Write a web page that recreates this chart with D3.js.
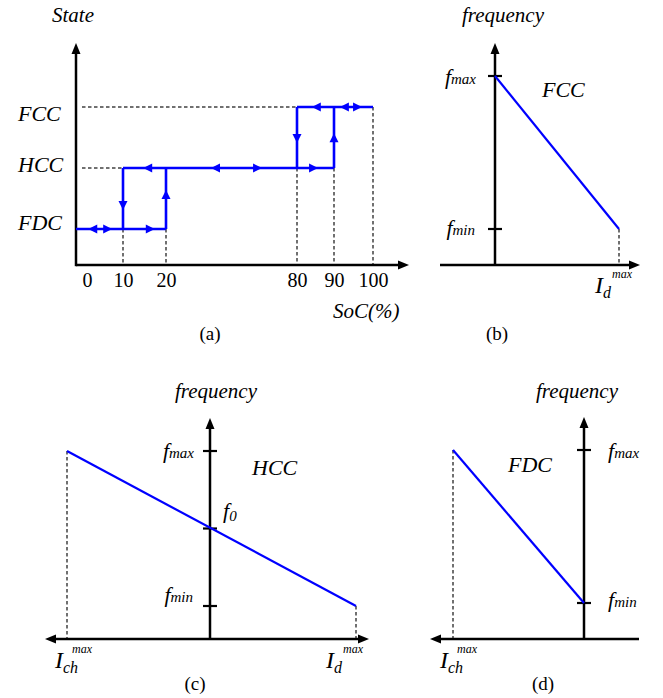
<!DOCTYPE html>
<html>
<head>
<meta charset="utf-8">
<script src="https://cdn.jsdelivr.net/npm/d3@7"></script>
<style>
  body { margin: 0; background: #fff; }
  text { font-family: "Liberation Serif", "Times New Roman", serif; fill: #000; }
  .it { font-style: italic; }
</style>
</head>
<body>
<div class="chart"></div>
<script>
// ---- data ----
const socTicks = [0, 10, 20, 80, 90, 100];
const stateNames = ["FDC", "HCC", "FCC"];       // levels 1, 2, 3
const stateLevels = [1, 2, 3];
// blue hysteresis path segments [soc1, level1, soc2, level2]
const stateSegments = [
  [0, 1, 20, 1], [10, 2, 10, 1], [20, 1, 20, 2], [10, 2, 90, 2],
  [80, 3, 80, 2], [90, 2, 90, 3], [80, 3, 100, 3]
];
// direction arrows [soc, level, direction]
const stateArrows = [
  [2.6, 1, "left"], [7.7, 1, "right"], [17.4, 1, "right"],
  [10, 1.31, "down"], [20, 1.64, "up"],
  [14.7, 2, "left"], [40.6, 2, "left"], [64, 2, "right"], [85.7, 2, "right"],
  [80, 2.41, "down"], [90, 2.57, "up"],
  [84, 3, "left"], [91.5, 3, "left"], [97.2, 3, "right"]
];
// grey guides: horizontal [socFrom, socTo, level], vertical [soc, level]
const guideH = [[0, 80, 3], [0, 10, 2]];
const guideV = [[10, 1], [20, 1], [80, 2], [90, 2], [100, 3]];

const freqNames = ["max", "0", "min"];
const freqValues = [1, 0.5, 0];
const lineFCC = [[0, 1], [1, 0]];        // current (Id max = 1), frequency
const lineHCC = [[-1, 1], [1, 0]];       // Ich max = -1
const lineFDC = [[-1, 1], [0, 0]];

const blue = "#0000ff", grey = "#707070", dash = "3.5,2.5";

const svg = d3.select(".chart").append("svg")
  .attr("width", 663).attr("height", 698);

function tri(g, x, y, dir, color, len, half) {
  const rot = { right: 0, left: 180, down: 90, up: -90 }[dir];
  g.append("path")
    .attr("d", `M0,0L${-len},${-half}L${-len},${half}Z`)
    .attr("transform", `translate(${x},${y}) rotate(${rot})`)
    .attr("fill", color);
}
function line(g, x1, y1, x2, y2, color, w, dsh) {
  g.append("line").attr("x1", x1).attr("y1", y1).attr("x2", x2).attr("y2", y2)
    .attr("stroke", color).attr("stroke-width", w)
    .attr("stroke-dasharray", dsh || null);
}
function label(g, x, y, txt, size, italic, anchor) {
  return g.append("text").attr("x", x).attr("y", y)
    .attr("class", italic ? "it" : null)
    .attr("font-size", size).attr("text-anchor", anchor || "start").text(txt);
}

// ================= (a) =================
const ga = svg.append("g");
const xSoc = d3.scaleLinear().domain(socTicks).range([76, 123, 166, 297, 334, 373]);
const yState = d3.scaleLinear().domain([1, 3]).range([229, 107]);
const axA = 265;

guideH.forEach(d => line(ga, xSoc(d[0]) + 6, yState(d[2]), xSoc(d[1]), yState(d[2]), grey, 2, dash));
guideV.forEach(d => line(ga, xSoc(d[0]), yState(d[1]), xSoc(d[0]), axA, grey, 2, dash));

line(ga, 76, axA, 400, axA, "#000", 2.5);
tri(ga, 409, axA, "right", "#000", 11, 4.5);
line(ga, 76, axA + 1.2, 76, 52, "#000", 2.5);
tri(ga, 76, 43, "up", "#000", 11, 4.5);

stateSegments.forEach(d => line(ga, xSoc(d[0]), yState(d[1]), xSoc(d[2]), yState(d[3]), blue, 2.6));
stateArrows.forEach(d => tri(ga, xSoc(d[0]), yState(d[1]), d[2], blue, 9, 4.5));

const xAxisA = ga.append("g")
  .attr("transform", `translate(0,${axA})`)
  .call(d3.axisBottom(xSoc).tickValues(socTicks).tickSize(0).tickPadding(8));
xAxisA.select(".domain").remove();
xAxisA.attr("font-family", null).attr("font-size", null);
xAxisA.selectAll("text")
  .attr("font-family", "Liberation Serif").attr("font-size", 20).attr("fill", "#000")
  .attr("dy", "0.71em")
  .attr("x", d => d === 0 ? 11 : 0);

const stateLabelY = [230, 172, 121];
stateNames.forEach((s, i) => label(ga, 18, stateLabelY[i], s, 22, true));
label(ga, 52, 22, "State", 21, true);
label(ga, 333, 318, "SoC(%)", 21, true);
label(ga, 210, 340, "(a)", 19, false, "middle");

// ================= frequency panels =================
function fLabel(g, x, y, sub, anchor) {
  const t = g.append("text").attr("x", x).attr("y", y).attr("class", "it")
    .attr("text-anchor", anchor);
  t.append("tspan").attr("font-size", 22).text("f");
  t.append("tspan").attr("font-size", 15)
    .attr("dy", sub === "0" ? 3 : 0).text(sub);
}
function iLabel(g, x, y, sub) {
  label(g, x, y, "I", 24, true);
  label(g, x + 8, y + 5, sub, 16, true);
  label(g, x + 17, y - 15, "max", 12, true);
}

function freqPanel(o) {
  const g = svg.append("g");
  const x = d3.scaleLinear().domain(o.xDomain).range(o.xRange);
  const y = d3.scaleLinear().domain([0, 1]).range(o.yRange);
  const x0 = x(0);
  const pts = o.data;

  // dashed drops from line ends at current limits
  pts.filter(p => p[0] !== 0).forEach(p =>
    line(g, x(p[0]), y(p[1]), x(p[0]), o.axisY, grey, 2, dash));

  // axes
  line(g, o.xAxis[0] + (o.leftArrow ? 8 : 0), o.axisY, o.xAxis[1] - (o.rightArrow ? 8 : 0), o.axisY, "#000", 2.5);
  if (o.rightArrow) tri(g, o.xAxis[1], o.axisY, "right", "#000", 11, 4.5);
  if (o.leftArrow) tri(g, o.xAxis[0], o.axisY, "left", "#000", 11, 4.5);
  line(g, x0, o.axisY, x0, o.yTop + 9, "#000", 2.5);
  tri(g, x0, o.yTop, "up", "#000", 11, 4.5);

  // frequency ticks
  freqValues.forEach((v, i) => {
    if (!o.ticks.includes(freqNames[i])) return;
    line(g, x0 - 7, y(v), x0 + 7, y(v), "#000", 2.2);
  });

  g.append("path")
    .datum(pts)
    .attr("d", d3.line().x(d => x(d[0])).y(d => y(d[1])))
    .attr("fill", "none").attr("stroke", blue).attr("stroke-width", 2.2);

  o.labels(g, x, y, x0);
}

// (b) FCC
freqPanel({
  xDomain: [0, 1], xRange: [495, 619], yRange: [229, 76],
  axisY: 265, xAxis: [440, 640], rightArrow: true, leftArrow: false, yTop: 43,
  data: lineFCC, ticks: ["max", "min"],
  labels: (g, x, y, x0) => {
    fLabel(g, x0 - 19, y(1) + 8, "max", "end");
    fLabel(g, x0 - 20, y(0) + 6, "min", "end");
    label(g, 462, 22, "frequency", 21, true);
    label(g, 542, 97, "FCC", 22, true);
    iLabel(g, 595, 293, "d");
    label(g, 497, 340, "(b)", 19, false, "middle");
  }
});

// (c) HCC
freqPanel({
  xDomain: [-1, 0, 1], xRange: [67, 210, 356], yRange: [606, 451],
  axisY: 639, xAxis: [45, 369], rightArrow: true, leftArrow: true, yTop: 418,
  data: lineHCC, ticks: ["max", "0", "min"],
  labels: (g, x, y, x0) => {
    fLabel(g, x0 - 16, y(1) + 7, "max", "end");
    fLabel(g, x0 + 13, y(0.5) - 11, "0", "start");
    fLabel(g, x0 - 17, y(0) - 4, "min", "end");
    label(g, 175, 398, "frequency", 21, true);
    label(g, 252, 475, "HCC", 22, true);
    iLabel(g, 55, 668, "ch");
    iLabel(g, 326, 668, "d");
    label(g, 195, 690, "(c)", 19, false, "middle");
  }
});

// (d) FDC
freqPanel({
  xDomain: [-1, 0], xRange: [453, 584], yRange: [603, 450],
  axisY: 639, xAxis: [430, 639], rightArrow: false, leftArrow: true, yTop: 417,
  data: lineFDC, ticks: ["max", "min"],
  labels: (g, x, y, x0) => {
    fLabel(g, x0 + 24, y(1) + 8, "max", "start");
    fLabel(g, x0 + 24, y(0) + 4, "min", "start");
    label(g, 536, 398, "frequency", 21, true);
    label(g, 508, 472, "FDC", 22, true);
    iLabel(g, 440, 668, "ch");
    label(g, 543, 690, "(d)", 19, false, "middle");
  }
});
</script>
</body>
</html>
